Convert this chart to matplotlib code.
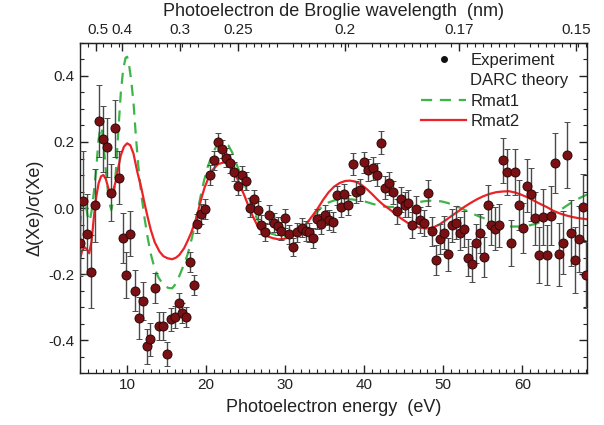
import numpy as np
import matplotlib
matplotlib.use("Agg")
import matplotlib.pyplot as plt
import matplotlib.transforms as mtransforms
from matplotlib.lines import Line2D
from matplotlib.ticker import MultipleLocator

plt.rcParams["font.family"] = ["Liberation Sans", "DejaVu Sans"]
plt.rcParams["axes.unicode_minus"] = False

# experiment: photoelectron energy (eV), asymmetry, error
exp_e = [4.0, 4.4, 4.9, 5.4, 5.9, 6.4, 6.9, 7.4, 7.9, 8.4, 9.0, 9.5, 9.9, 10.4, 11.0,
         11.5, 12.0, 12.5, 12.9, 13.5, 14.0, 14.5, 15.0, 15.5, 16.0, 16.5, 16.9, 17.4,
         18.0, 18.4, 18.9, 19.4, 19.9, 20.5, 21.0, 21.5, 22.0, 22.5, 23.0, 23.5, 24.0,
         24.5, 25.0, 25.5, 26.0, 26.5, 27.0, 27.5, 28.0, 28.6, 29.1, 29.5, 30.0, 30.5,
         31.0, 31.5, 32.1, 32.6, 33.0, 33.5, 34.0, 34.5, 35.0, 35.5, 36.0, 36.5, 37.0,
         37.5, 38.0, 38.6, 39.0, 39.5, 40.0, 40.5, 41.1, 41.6, 42.1, 42.6, 43.1, 43.6,
         44.1, 44.6, 45.1, 45.6, 46.1, 46.6, 47.1, 47.6, 48.1, 48.6, 49.1, 49.6, 50.1,
         50.6, 51.1, 51.6, 52.1, 52.6, 53.1, 53.6, 54.1, 54.6, 55.1, 55.6, 56.1, 56.6,
         57.1, 57.6, 58.1, 58.6, 59.1, 59.6, 60.1, 60.6, 61.1, 61.6, 62.1, 62.6, 63.1,
         63.6, 64.1, 64.6, 65.1, 65.7, 66.2, 66.7, 67.2, 67.7, 68.1]
exp_v = [-0.105, 0.022, -0.079, -0.193, 0.008, 0.264, 0.210, 0.184, 0.047, 0.241, 0.092,
         -0.091, -0.203, -0.078, -0.250, -0.333, -0.281, -0.418, -0.398, -0.243, -0.358,
         -0.357, -0.442, -0.337, -0.329, -0.289, -0.317, -0.331, -0.163, -0.233, -0.047,
         -0.018, -0.004, 0.100, 0.144, 0.200, 0.179, 0.153, 0.135, 0.110, 0.067, 0.100,
         0.082, 0.001, 0.026, -0.006, -0.050, -0.072, -0.020, -0.044, -0.054, -0.070,
         -0.031, -0.080, -0.118, -0.074, -0.059, -0.069, -0.074, -0.090, -0.033, -0.048,
         -0.021, -0.036, -0.042, 0.038, 0.002, 0.043, 0.010, 0.133, 0.048, 0.054, 0.138,
         0.115, 0.120, 0.101, 0.198, 0.061, 0.075, 0.048, -0.010, 0.027, 0.010, 0.014,
         -0.052, -0.003, -0.036, -0.045, 0.045, -0.071, -0.158, -0.093, -0.075, -0.140,
         -0.052, -0.045, -0.077, -0.064, -0.150, -0.170, -0.107, -0.077, -0.148, 0.009,
         -0.052, -0.062, -0.052, 0.145, 0.110, -0.105, 0.110, 0.009, -0.060, 0.067, 0.042,
         -0.031, -0.142, -0.028, -0.142, -0.023, 0.137, -0.140, -0.105, 0.161, -0.075,
         -0.158, -0.094, 0.002, -0.203]
exp_err = [0.10, 0.15, 0.12, 0.11, 0.11, 0.11, 0.10, 0.09, 0.085, 0.085, 0.08, 0.075, 0.07,
           0.068, 0.063, 0.063, 0.058, 0.053, 0.05, 0.045, 0.043, 0.042, 0.035, 0.035,
           0.033, 0.032, 0.03, 0.03, 0.03, 0.03, 0.03, 0.03, 0.03, 0.03, 0.03, 0.028,
           0.028, 0.028, 0.028, 0.028, 0.028, 0.028, 0.028, 0.028, 0.028, 0.028, 0.028,
           0.028, 0.028, 0.028, 0.028, 0.028, 0.028, 0.028, 0.028, 0.03, 0.03, 0.03, 0.03,
           0.03, 0.03, 0.03, 0.03, 0.03, 0.03, 0.03, 0.03, 0.03, 0.03, 0.033, 0.033,
           0.033, 0.033, 0.033, 0.035, 0.035, 0.035, 0.035, 0.035, 0.035, 0.038, 0.038,
           0.038, 0.04, 0.04, 0.04, 0.04, 0.04, 0.04, 0.045, 0.045, 0.045, 0.05, 0.05,
           0.05, 0.05, 0.05, 0.055, 0.055, 0.055, 0.06, 0.06, 0.06, 0.06, 0.06, 0.065,
           0.065, 0.068, 0.07, 0.07, 0.07, 0.075, 0.075, 0.08, 0.08, 0.08, 0.085, 0.085,
           0.09, 0.09, 0.09, 0.095, 0.095, 0.1, 0.1, 0.1, 0.1, 0.1, 0.1]

# Rmat1 (green dashed)
r1_e = [4.0, 4.2, 4.45, 4.7, 5.0, 5.25, 5.5, 5.8, 6.1, 6.35, 6.6, 6.8, 7.1, 7.4, 7.7, 8.0,
        8.3, 8.6, 8.9, 9.2, 9.5, 9.8, 10.0, 10.2, 10.5, 10.8, 11.1, 11.4, 11.8, 12.2,
        12.6, 13.0, 13.5, 14.0, 14.6, 15.2, 15.7, 16.2, 16.7, 17.2, 17.7, 18.2, 18.7,
        19.2, 19.7, 20.2, 20.7, 21.2, 21.7, 22.3, 22.8, 23.3, 23.8, 24.3, 24.8, 25.4,
        25.9, 26.4, 27.0, 27.6, 28.3, 29.0, 29.8, 30.5, 31.2, 32.0, 32.7, 33.4, 34.1,
        34.8, 35.5, 36.2, 36.9, 37.7, 38.5, 39.3, 40.2, 41.0, 41.8, 42.6, 43.4, 44.2,
        45.0, 45.8, 46.6, 47.4, 48.2, 49.0, 49.8, 50.6, 51.4, 52.2, 53.0, 53.8, 54.6,
        55.4, 56.2, 57.0, 57.8, 58.6, 59.4, 60.2, 61.0, 61.8, 62.6, 63.4, 64.2, 65.0,
        65.8, 66.6, 67.4, 68.2]
r1_v = [-0.057, 0.0, 0.03, 0.02, -0.025, -0.04, -0.01, 0.05, 0.12, 0.2, 0.245, 0.24, 0.17,
        0.09, 0.02, -0.006, 0.03, 0.12, 0.24, 0.35, 0.42, 0.455, 0.458, 0.44, 0.39, 0.32,
        0.22, 0.13, 0.04, -0.03, -0.09, -0.14, -0.185, -0.212, -0.232, -0.242, -0.243,
        -0.228, -0.2, -0.17, -0.137, -0.09, -0.035, 0.025, 0.08, 0.125, 0.158, 0.183,
        0.198, 0.2, 0.19, 0.168, 0.135, 0.105, 0.078, 0.032, 0.0, -0.031, -0.055, -0.07,
        -0.078, -0.082, -0.085, -0.085, -0.077, -0.062, -0.046, -0.029, -0.01, 0.007,
        0.017, 0.023, 0.026, 0.027, 0.026, 0.023, 0.019, 0.013, 0.008, 0.004, 0.003,
        0.004, 0.007, 0.011, 0.016, 0.020, 0.022, 0.022, 0.020, 0.015, 0.008, 0.0,
        -0.009, -0.018, -0.026, -0.033, -0.041, -0.048, -0.053, -0.056, -0.056, -0.055,
        -0.052, -0.047, -0.039, -0.029, -0.016, -0.003, 0.010, 0.022, 0.032, 0.041]

# Rmat2 (red solid)
r2_e = [4.0, 4.3, 4.6, 4.9, 5.2, 5.5, 5.8, 6.1, 6.4, 6.7, 7.0, 7.3, 7.6, 7.95, 8.3, 8.6,
        8.9, 9.2, 9.6, 10.0, 10.4, 10.8, 11.3, 11.8, 12.2, 12.6, 13.0, 13.5, 14.1, 14.6,
        15.1, 15.7, 16.2, 16.6, 17.2, 17.7, 18.1, 18.6, 19.0, 19.4, 19.8, 20.3, 20.8,
        21.5, 22.2, 22.8, 23.3, 23.8, 24.3, 24.9, 25.4, 25.9, 26.5, 27.1, 27.7, 28.4,
        29.2, 29.9, 30.6, 31.3, 32.0, 32.7, 33.4, 34.1, 34.8, 35.5, 36.2, 36.9, 37.6,
        38.2, 38.9, 39.6, 40.3, 41.0, 41.7, 42.4, 43.1, 43.9, 44.7, 45.5, 46.3, 47.1,
        47.9, 48.7, 49.5, 50.3, 51.1, 51.9, 52.7, 53.5, 54.3, 55.1, 55.9, 56.7, 57.5,
        58.3, 59.1, 59.9, 60.7, 61.5, 62.3, 63.1, 63.9, 64.7, 65.5, 66.3, 67.2, 68.2]
r2_v = [-0.158, -0.13, -0.118, -0.125, -0.137, -0.10, -0.025, 0.035, 0.076, 0.096, 0.100,
        0.088, 0.062, 0.040, 0.058, 0.085, 0.125, 0.160, 0.186, 0.196, 0.190, 0.165,
        0.108, 0.060, 0.014, -0.028, -0.067, -0.104, -0.132, -0.146, -0.152, -0.155,
        -0.150, -0.142, -0.122, -0.097, -0.075, -0.042, -0.008, 0.030, 0.062, 0.092,
        0.115, 0.133, 0.138, 0.133, 0.120, 0.097, 0.068, 0.034, 0.003, -0.025, -0.054,
        -0.073, -0.085, -0.091, -0.095, -0.093, -0.088, -0.078, -0.065, -0.047, -0.025,
        -0.002, 0.025, 0.048, 0.065, 0.076, 0.082, 0.083, 0.080, 0.071, 0.058, 0.042,
        0.025, 0.010, -0.002, -0.017, -0.032, -0.045, -0.055, -0.060, -0.062, -0.059,
        -0.050, -0.037, -0.023, -0.010, 0.004, 0.016, 0.027, 0.036, 0.043, 0.048, 0.050,
        0.051, 0.047, 0.040, 0.032, 0.022, 0.012, 0.003, -0.008, -0.016, -0.022, -0.027,
        -0.031, -0.034]

wl_ticks = [0.5, 0.4, 0.3, 0.25, 0.2, 0.17, 0.15]
wl_labels = ["0.5", "0.4", "0.3", "0.25", "0.2", "0.17", "0.15"]

fig = plt.figure(figsize=(6.04, 4.25), dpi=100)
ax = fig.add_axes([0.132, 0.122, 0.840, 0.777])

ax.plot(r1_e, r1_v, color="#3db54a", lw=1.6, ls=(0, (5, 3.5)), zorder=2)
ax.plot(r2_e, r2_v, color="#ec2227", lw=1.6, zorder=2)
ax.errorbar(exp_e, exp_v, yerr=exp_err, fmt="o", ms=6.5, mfc="#7a1013", mec="#2a0808",
            mew=0.7, ecolor="#4a4a4a", elinewidth=1.0, capsize=2, capthick=1.0, zorder=3)

ax.set_xlim(4, 68.2)
ax.set_ylim(-0.5, 0.5)
ax.xaxis.set_major_locator(MultipleLocator(10))
ax.xaxis.set_minor_locator(MultipleLocator(1))
ax.yaxis.set_major_locator(MultipleLocator(0.2))
ax.yaxis.set_minor_locator(MultipleLocator(0.05))
ax.tick_params(which="both", direction="in", right=True, labelsize=11, colors="#222222")
ax.tick_params(which="minor", top=True)
ax.tick_params(which="major", length=6, width=1)
ax.tick_params(which="minor", length=3, width=0.8)
for s in ax.spines.values():
    s.set_linewidth(1.0)
    s.set_color("#222222")

ax.set_xlabel("Photoelectron energy  (eV)", fontsize=13, color="#222222", labelpad=5)
ax.set_ylabel("\u0394(Xe)/\u03c3(Xe)", fontsize=13, color="#222222", labelpad=4)


def e2wl(e):
    e = np.clip(np.asarray(e, dtype=float), 1e-3, None)
    return 1.226 / np.sqrt(e)


def wl2e(w):
    w = np.clip(np.asarray(w, dtype=float), 1e-3, None)
    return (1.226 / w) ** 2


top = ax.secondary_xaxis("top", functions=(e2wl, wl2e))
top.set_xticks(wl_ticks)
top.set_xticklabels(wl_labels)
top.xaxis.set_minor_locator(matplotlib.ticker.NullLocator())
top.tick_params(direction="in", length=6, width=1, labelsize=11, colors="#222222", pad=4)
top.set_xlabel("Photoelectron de Broglie wavelength  (nm)", fontsize=13, color="#222222",
               labelpad=5)
# the 0.5 label sits a little right of its tick in the original
shift = mtransforms.ScaledTranslation(2 / 100, 0, fig.dpi_scale_trans)
lab05 = top.get_xticklabels()[0]
lab05.set_transform(lab05.get_transform() + shift)

handles = [
    Line2D([], [], ls="none", marker="o", ms=4, color="#111111"),
    Line2D([], [], ls="none"),
    Line2D([], [], color="#3db54a", lw=1.6, ls=(0, (5, 3.5))),
    Line2D([], [], color="#ec2227", lw=1.6),
]
ax.legend(handles, ["Experiment", "DARC theory", "Rmat1", "Rmat2"], loc="upper left",
          bbox_to_anchor=(0.66, 0.99), frameon=False, fontsize=12, handlelength=2.7,
          handletextpad=0.25, labelspacing=0.32, borderaxespad=0.0, labelcolor="#222222")

fig.savefig("out.png", dpi=100)
